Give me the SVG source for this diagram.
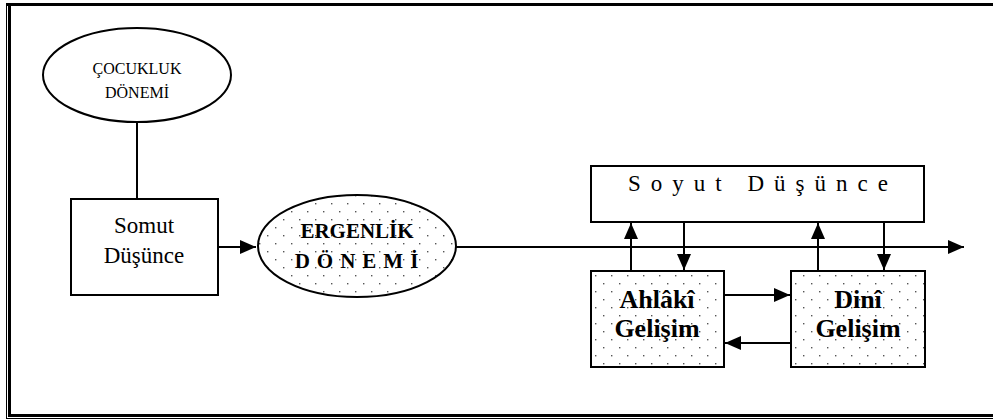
<svg xmlns="http://www.w3.org/2000/svg" width="993" height="419" viewBox="0 0 993 419">
<style>
.ln{stroke:#000;stroke-width:2;fill:none}
.box{stroke:#000;stroke-width:2;fill:#fff}
.dot{stroke:#000;stroke-width:2;fill:url(#dots)}
text{font-family:'Liberation Serif','DejaVu Serif',serif;fill:#000;text-anchor:middle}
.b{font-weight:bold}
</style>
<defs>
<pattern id="dots" patternUnits="userSpaceOnUse" width="16" height="16">
<rect width="16" height="16" fill="#fff"/>
<rect x="3" y="3" width="1.4" height="1.4" fill="#555"/>
<rect x="11" y="11" width="1.4" height="1.4" fill="#555"/>
</pattern>
<marker id="ah" markerWidth="8" markerHeight="7" refX="8" refY="3.5" orient="auto" markerUnits="strokeWidth">
<path d="M0,0 L8,3.5 L0,7 Z" fill="#000"/>
</marker>
</defs>
<rect width="993" height="419" fill="#fff"/>
<g id="frame">
<line x1="6" y1="4.5" x2="993" y2="4.5" stroke="#000" stroke-width="3"/>
<line x1="6.5" y1="3" x2="6.5" y2="419" stroke="#000" stroke-width="1"/>
<line x1="9.5" y1="3" x2="9.5" y2="417" stroke="#000" stroke-width="3"/>
<line x1="8" y1="415.5" x2="993" y2="415.5" stroke="#000" stroke-width="3"/>
<line x1="6" y1="418.5" x2="993" y2="418.5" stroke="#000" stroke-width="1"/>
</g>
<g id="connectors">
<line class="ln" x1="137" y1="121" x2="137" y2="199"/>
<line class="ln" x1="218" y1="247" x2="256" y2="247" marker-end="url(#ah)"/>
<line class="ln" x1="456" y1="247" x2="964" y2="247" marker-end="url(#ah)"/>
<line class="ln" x1="631" y1="271" x2="631" y2="223" marker-end="url(#ah)"/>
<line class="ln" x1="684" y1="222" x2="684" y2="270" marker-end="url(#ah)"/>
<line class="ln" x1="818" y1="271" x2="818" y2="223" marker-end="url(#ah)"/>
<line class="ln" x1="884" y1="222" x2="884" y2="270" marker-end="url(#ah)"/>
<line class="ln" x1="724" y1="295" x2="790" y2="295" marker-end="url(#ah)"/>
<line class="ln" x1="791" y1="343" x2="725" y2="343" marker-end="url(#ah)"/>
</g>
<g id="cocukluk">
<ellipse class="box" cx="137" cy="75" rx="94" ry="47"/>
<text x="137" y="74" font-size="16">ÇOCUKLUK</text>
<text x="137" y="98" font-size="16">DÖNEMİ</text>
</g>
<g id="somut">
<rect class="box" x="71" y="199" width="147" height="96"/>
<text x="144" y="233" font-size="23">Somut</text>
<text x="144" y="263" font-size="23">Düşünce</text>
</g>
<g id="ergenlik">
<ellipse class="dot" cx="357" cy="246" rx="99" ry="51"/>
<text class="b" x="357" y="238" font-size="21">ERGENLİK</text>
<text class="b" x="360" y="268" font-size="21" letter-spacing="7">DÖNEMİ</text>
</g>
<g id="soyut">
<rect class="box" x="591" y="166" width="333" height="56"/>
<text x="763" y="191" font-size="23" letter-spacing="10">Soyut Düşünce</text>
</g>
<g id="ahlaki">
<rect class="dot" x="591" y="271" width="133" height="96"/>
<text class="b" x="657" y="308" font-size="26">Ahlâkî</text>
<text class="b" x="657" y="337" font-size="26">Gelişim</text>
</g>
<g id="dini">
<rect class="dot" x="791" y="271" width="134" height="96"/>
<text class="b" x="858" y="308" font-size="26">Dinî</text>
<text class="b" x="858" y="337" font-size="26">Gelişim</text>
</g>
</svg>
